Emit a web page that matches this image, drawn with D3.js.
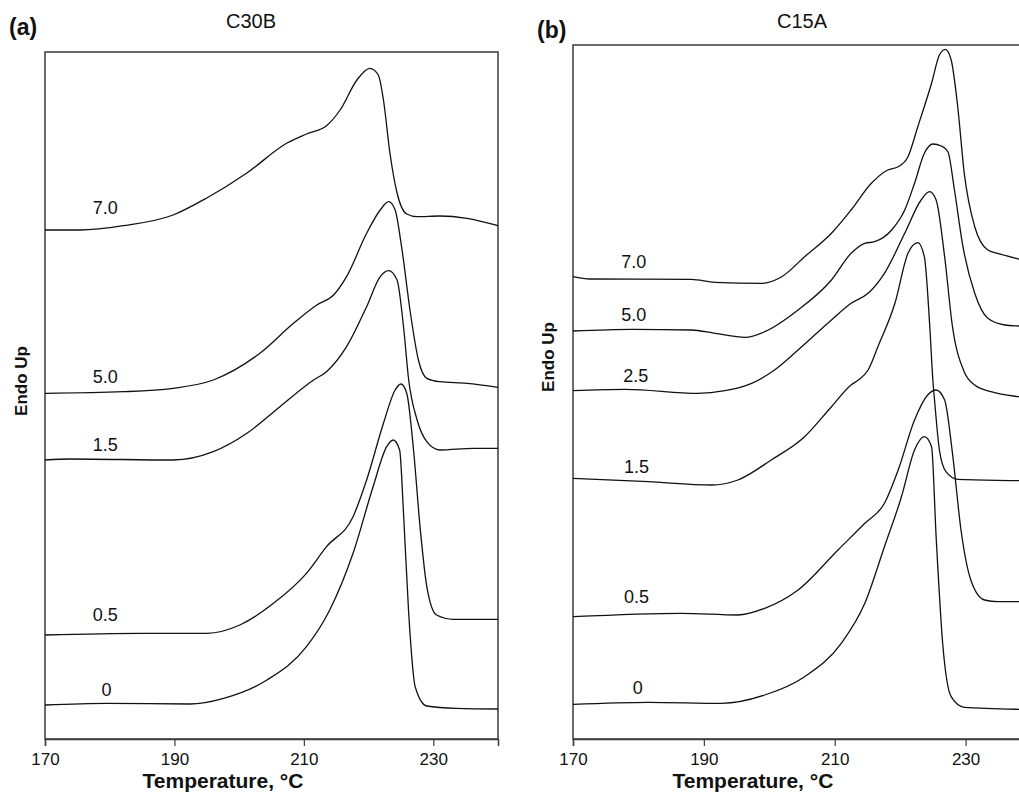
<!DOCTYPE html>
<html>
<head>
<meta charset="utf-8">
<script src="https://cdn.jsdelivr.net/npm/d3@7"></script>
<style>
  html, body { margin: 0; padding: 0; background: #fff; }
  svg { display: block; font-family: "Liberation Sans", Arial, sans-serif; }
</style>
</head>
<body>
<svg id="chart" width="1019" height="801"></svg>
<script>
// ---------- DATA ----------
const xTicks = [170, 190, 210, 230];

// Panel (a) C30B: [temperature °C, heat flow (arb. units, offset)]
const a_labels = ["7.0", "5.0", "1.5", "0.5", "0"];
const a_c70 = [[170,50.9],[175.4,50.9],[182.1,51.33],[189.8,52.4],[195,54.1],[201.2,56.6],[207.4,59.6],[210.4,60.5],[213.5,61.33],[215.6,62.9],[218.2,65.9],[220.2,67.07],[221.5,66.4],[222.3,63.9],[223.3,58.6],[224.4,54.6],[225.9,52.5],[227.5,52.23],[231,52.3],[235.2,52.07],[240,51.33]];
const a_c50 = [[170,34.57],[182.1,34.73],[189.8,35.07],[196,35.9],[203.2,38.57],[208.4,41.57],[212,43.4],[214.6,44.4],[216.6,46.23],[219.7,50.57],[221.8,52.9],[223.1,53.73],[224.1,52.9],[225.1,49.23],[226.4,42.9],[227.7,37.9],[229,36.07],[231,35.73],[235.2,35.57],[240,35.17]];
const a_c15 = [[170,27.9],[173.9,28.0],[189.8,27.9],[196,28.73],[201.2,30.57],[206.3,33.23],[211.5,35.9],[213.5,36.73],[216.6,39.23],[219.7,43.23],[221.8,46.23],[223.1,46.83],[224.4,45.9],[225.4,41.23],[226.2,35.9],[227.5,31.9],[229,29.73],[231,28.9],[236.2,29.07],[240,29.07]];
const a_c05 = [[170,10.4],[184.7,10.57],[195,10.57],[200.1,11.4],[205.3,13.57],[210.4,16.57],[213.5,19.23],[217.6,22.23],[219.7,25.9],[222.3,31.57],[224.1,34.9],[225,35.5],[225.9,34.57],[226.9,29.23],[228,20.9],[229,15.23],[230.5,12.4],[233.1,11.97],[240,11.97]];
const a_c00 = [[170,3.4],[179.5,3.57],[192.4,3.5],[197.6,4.07],[204.3,5.9],[210.4,9.23],[214,12.9],[217.6,18.57],[220.7,25.23],[222.8,29.23],[223.8,29.9],[224.8,28.9],[225.4,22.57],[226.2,12.57],[227.2,5.23],[229,3.3],[233.6,3.07],[240,3.0]];
const a_labelT = [179.3, 179.3, 179.3, 179.3, 179.5];
const a_labelV = [53.1, 36.23, 29.4, 12.4, 4.9];

// Panel (b) C15A
const b_labels = ["7.0", "5.0", "2.5", "1.5", "0.5", "0"];
const b_c70 = [[170,46.23],[172.6,46.0],[188.1,45.97],[191.7,45.67],[198.8,45.57],[201.9,46.23],[205.4,48.23],[209.5,50.57],[212.5,52.9],[215.6,55.57],[218.1,56.9],[219.7,57.23],[221.2,58.23],[222.7,61.23],[224.8,65.57],[226,68.4],[226.9,68.97],[227.8,67.9],[228.8,63.23],[229.8,56.57],[231.4,51.23],[233.4,48.9],[234.9,48.57],[238.1,48.0],[240,47.7]];
const b_c50 = [[170,40.8],[179,40.97],[188.1,40.9],[191.7,40.57],[196.3,40.17],[199.3,40.73],[204.4,42.9],[209.5,45.9],[212.5,48.57],[214.6,49.57],[216.1,49.73],[218.7,50.9],[220.7,52.9],[222.2,55.57],[223.7,58.57],[225,59.5],[226.3,59.3],[227.3,58.73],[228.3,54.9],[229.6,49.23],[231.4,44.57],[233.4,42.07],[236,41.4],[238.1,41.3],[240,41.25]];
const b_c25 = [[170,34.83],[178,34.97],[189.1,34.57],[193.2,34.83],[197.3,35.57],[200.8,36.9],[204.4,38.9],[209.5,41.9],[212.5,43.57],[215.1,44.57],[217.6,46.57],[220.7,50.57],[223.2,53.9],[224.5,54.73],[225.5,53.9],[226.8,48.23],[228,41.23],[229.8,36.7],[231.4,35.4],[233.9,34.73],[238.1,34.23],[240,34.1]];
const b_c15 = [[170,26.07],[181.5,25.73],[191.2,25.4],[195.2,25.9],[200.3,27.9],[205.4,30.23],[209.5,33.23],[212.5,35.4],[213.6,35.9],[215.1,36.9],[216.6,39.23],[219.2,43.57],[221.2,48.57],[222.7,49.63],[223.7,48.23],[224.5,41.57],[225,35.9],[225.3,33.57],[226,28.9],[227,26.73],[228.8,25.97],[238.1,25.83],[240,25.8]];
const b_c05 = [[170,12.23],[186.6,12.57],[195.2,12.4],[199.3,13.07],[204.4,14.9],[210.5,18.9],[214.6,21.57],[217.6,23.57],[219.7,26.9],[222.2,31.9],[224.2,34.4],[225.5,34.9],[226.8,33.9],[228,28.57],[229.3,20.9],[230.8,15.9],[232.9,13.9],[234.9,13.73],[240,13.73]];
const b_c00 = [[170,3.47],[181.5,3.67],[192.7,3.57],[199.3,4.4],[205.4,6.23],[211,9.57],[214.6,13.57],[217.6,19.23],[220.2,24.23],[222.2,28.9],[223.7,30.23],[224.8,29.23],[225.5,20.23],[226.5,9.57],[227.8,4.23],[229.8,3.17],[238.1,2.97],[240,2.95]];
const b_labelT = [179.3, 179.3, 179.6, 179.7, 179.7, 179.9];
const b_labelV = [47.73, 42.4, 36.3, 27.23, 14.23, 5.07];

// ---------- DRAW ----------
const svg = d3.select("#chart");
const BOTTOM = 739;

function panel(opts) {
  const x = d3.scaleLinear().domain([170, 240]).range([opts.left, opts.right]);
  const y = d3.scaleLinear().domain([0, (BOTTOM - opts.top) / 10]).range([BOTTOM, opts.top]);
  const g = svg.append("g");

  // frame
  g.append("rect")
    .attr("x", opts.left).attr("y", opts.top)
    .attr("width", opts.right - opts.left).attr("height", BOTTOM - opts.top)
    .attr("fill", "none").attr("stroke", "#3a3a3a").attr("stroke-width", 1.5);

  // x axis
  const ax = g.append("g").attr("transform", `translate(0,${BOTTOM})`)
    .call(d3.axisBottom(x).tickValues(xTicks).tickSize(7).tickPadding(7).tickFormat(d3.format("d")));
  ax.select(".domain").attr("stroke", "#3a3a3a").attr("stroke-width", 1.5);
  ax.selectAll(".tick line").attr("stroke", "#3a3a3a").attr("stroke-width", 1.2);
  ax.selectAll(".tick text").attr("font-size", 17).attr("fill", "#111")
    .attr("font-family", "'Liberation Sans', Arial, sans-serif");

  // curves
  const line = d3.line().x(d => x(d[0])).y(d => y(d[1])).curve(d3.curveMonotoneX);
  opts.series.forEach(s => {
    g.append("path").datum(s).attr("d", line)
      .attr("fill", "none").attr("stroke", "#111").attr("stroke-width", 1.3);
  });

  // curve labels
  opts.labels.forEach((lab, i) => {
    g.append("text").attr("x", x(opts.labelT[i])).attr("y", y(opts.labelV[i]))
      .attr("text-anchor", "middle").attr("dominant-baseline", "central")
      .attr("font-size", 18).attr("fill", "#111").text(lab);
  });

  // axis titles
  g.append("text").attr("x", x(197.5)).attr("y", 788)
    .attr("text-anchor", "middle").attr("font-size", 21).attr("font-weight", "bold")
    .attr("fill", "#111").text("Temperature, °C");
  g.append("text")
    .attr("transform", `translate(${opts.ylabX},${opts.ylabY}) rotate(-90)`)
    .attr("text-anchor", "middle").attr("dominant-baseline", "central")
    .attr("font-size", 17).attr("font-weight", "bold").attr("fill", "#111").text("Endo Up");

  // panel letter and title
  g.append("text").attr("x", opts.letterX).attr("y", opts.letterY)
    .attr("font-size", 23).attr("font-weight", "bold").attr("fill", "#111").text(opts.letter);
  g.append("text").attr("x", opts.titleX).attr("y", 28)
    .attr("text-anchor", "middle").attr("font-size", 20).attr("fill", "#111").text(opts.title);
}

panel({
  left: 45, right: 498, top: 52,
  series: [a_c70, a_c50, a_c15, a_c05, a_c00],
  labels: a_labels, labelT: a_labelT, labelV: a_labelV,
  ylabX: 21, ylabY: 381, letter: "(a)", letterX: 9, letterY: 35,
  title: "C30B", titleX: 251
});
panel({
  left: 573, right: 1031, top: 45,
  series: [b_c70, b_c50, b_c25, b_c15, b_c05, b_c00],
  labels: b_labels, labelT: b_labelT, labelV: b_labelV,
  ylabX: 548, ylabY: 357, letter: "(b)", letterX: 537, letterY: 38,
  title: "C15A", titleX: 802
});
</script>
</body>
</html>
